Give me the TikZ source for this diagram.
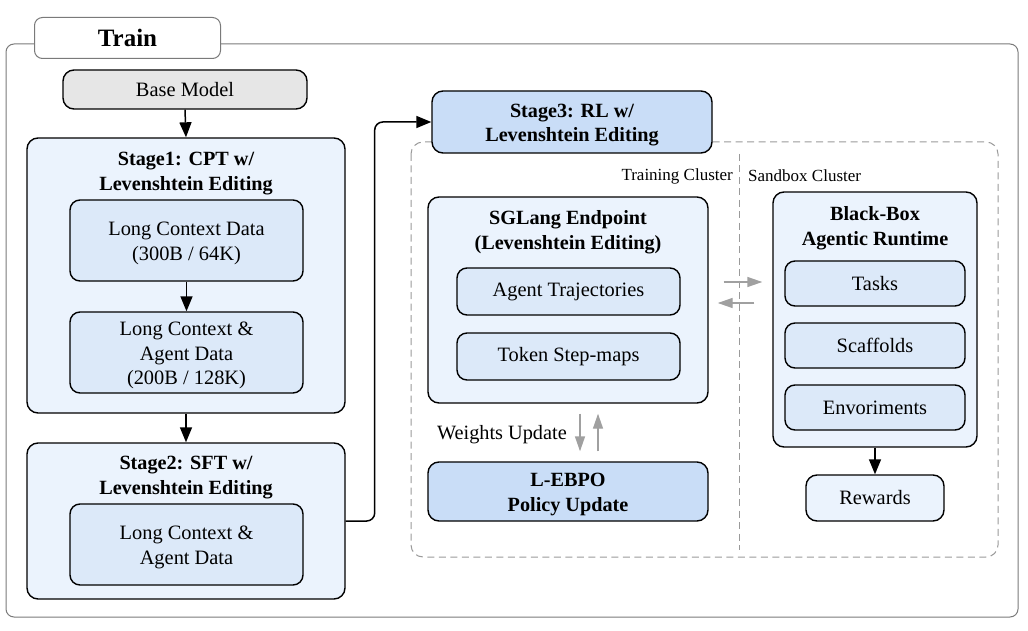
\documentclass[tikz,border=0pt]{standalone}
\usepackage{fontspec}
\setmainfont{Liberation Serif}
\usetikzlibrary{arrows.meta,calc}
\definecolor{paleblue}{HTML}{EBF3FD}
\definecolor{midblue}{HTML}{DCE9F9}
\definecolor{deepblue}{HTML}{C9DDF7}
\definecolor{basegray}{HTML}{E6E6E6}
\definecolor{framegray}{HTML}{7A7A7A}
\definecolor{dashgray}{HTML}{9A9A9A}
\definecolor{arrgray}{HTML}{A0A0A0}
\newcommand{\lowerfirst}{\rule{0pt}{19.5pt}}
\tikzset{
  bx/.style={draw=black, line width=1.4pt, rounded corners=11pt, align=center, inner sep=0pt,
     font=\fontsize{20.4}{24.5}\selectfont},
  outerbox/.style={bx, fill=paleblue},
  innerbox/.style={bx, fill=midblue, rounded corners=10pt},
  strongbox/.style={bx, fill=deepblue, font=\fontsize{20.2}{24.5}\selectfont\bfseries},
  ttl/.style={align=center, inner sep=0pt, font=\fontsize{20.2}{25}\selectfont\bfseries},
  clab/.style={inner sep=0pt, font=\fontsize{17}{20}\selectfont},
  arr/.style={draw=black, line width=1.5pt, -{Triangle[length=15pt,width=12pt]}},
  garr/.style={draw=arrgray, line width=1.4pt, -{Triangle[length=15pt,width=10pt]}},
}
\begin{document}
\begin{tikzpicture}[x=1pt,y=-1pt]
\useasboundingbox (0,0) rectangle (1028,631);
% outer frame
\draw[framegray, line width=1pt, rounded corners=8pt] (6,44) rectangle (1018,617);
\node[draw=framegray, line width=1pt, fill=white, rounded corners=8pt, minimum width=186pt, minimum height=41pt,
  inner sep=0pt, font=\fontsize{25}{30}\selectfont\bfseries] (train) at (127.5,38) {Train};

% left column
\node[bx, fill=basegray, minimum width=244pt, minimum height=39pt] (base) at (185,89.5) {Base Model};
\node[outerbox, minimum width=318pt, minimum height=275pt] (s1) at (186,275.5) {};
\node[ttl] (s1t) at (186,173.5) {Stage1: CPT w/\\Levenshtein Editing};
\node[innerbox, minimum width=233pt, minimum height=81pt] (s1a) at (186.5,240.5) {\lowerfirst Long Context Data\\(300B / 64K)};
\node[innerbox, minimum width=233pt, minimum height=81pt] (s1b) at (186.5,352.5) {\lowerfirst Long Context \&\\Agent Data\\(200B / 128K)};
\node[outerbox, minimum width=318pt, minimum height=156pt] (s2) at (186,521) {};
\node[ttl] (s2t) at (186,478) {Stage2: SFT w/\\Levenshtein Editing};
\node[innerbox, minimum width=233pt, minimum height=81pt] (s2a) at (186.5,544.5) {\lowerfirst Long Context \&\\Agent Data};

\draw[arr] (base.south) -- (s1.north);
\draw[arr] (s1a.south) -- (s1b.north);
\draw[arr] (s1.south) -- (s2.north);

% RL stage
\draw[dashgray, line width=1pt, dash pattern=on 7pt off 4.5pt, rounded corners=12pt] (411,142) rectangle (998,557);
\coordinate (divtop) at (739.5,154);
\coordinate (divbot) at (739.5,550);
\draw[dashgray, line width=1pt, dash pattern=on 7pt off 4.5pt] (divtop) -- (divbot);
\node[strongbox, minimum width=280pt, minimum height=62pt] (s3) at (572,122) {\lowerfirst Stage3: RL w/\\Levenshtein Editing};
\draw[arr, rounded corners=8pt] (s2.east) -- ++(29,0) |- (s3.west);

\node[clab, anchor=east] (tc) at (733,176) {Training Cluster};
\node[clab, anchor=west] (sc) at (748,176) {Sandbox Cluster};

\node[outerbox, minimum width=280pt, minimum height=206pt] (sg) at (568,300) {};
\node[ttl] (sgt) at (568,232) {SGLang Endpoint\\(Levenshtein Editing)};
\node[innerbox, minimum width=223pt, minimum height=47pt] (at) at (568.5,291.5) {Agent Trajectories};
\node[innerbox, minimum width=223pt, minimum height=47pt] (ts) at (568.5,356.5) {Token Step-maps};

\node[strongbox, minimum width=280pt, minimum height=59pt] (lebpo) at (568,491.5) {\lowerfirst L-EBPO\\Policy Update};
\node[inner sep=0pt, anchor=east, font=\fontsize{20.3}{24}\selectfont] (wu) at (567,435) {Weights Update};
\draw[garr] ($(sg.south)+(12,10)$) -- ($(lebpo.north)+(12,-10)$);
\draw[garr] ($(lebpo.north)+(30,-10)$) -- ($(sg.south)+(30,10)$);

\node[outerbox, minimum width=204pt, minimum height=255pt] (bb) at (875,319.5) {};
\node[ttl] (bbt) at (875,228) {Black-Box\\Agentic Runtime};
\node[innerbox, minimum width=180pt, minimum height=45pt] (tasks) at (875,283.5) {Tasks};
\node[innerbox, minimum width=180pt, minimum height=45pt] (scaf) at (875,345.5) {Scaffolds};
\node[innerbox, minimum width=180pt, minimum height=45pt] (env) at (875,407.5) {Envoriments};
\node[outerbox, minimum width=138pt, minimum height=46pt] (rew) at (875,498) {Rewards};
\draw[arr] (bb.south) -- (rew.north);

\coordinate (ra) at ($(sg.east)+(15,-18)$);
\coordinate (rb) at ($(bb.west)+(-10,-37.5)$);
\coordinate (la) at ($(bb.west)+(-18,-16.5)$);
\coordinate (lb) at ($(sg.east)+(9,3)$);
\draw[garr] (ra) -- (rb);
\draw[garr] (la) -- (lb);
\end{tikzpicture}
\end{document}
